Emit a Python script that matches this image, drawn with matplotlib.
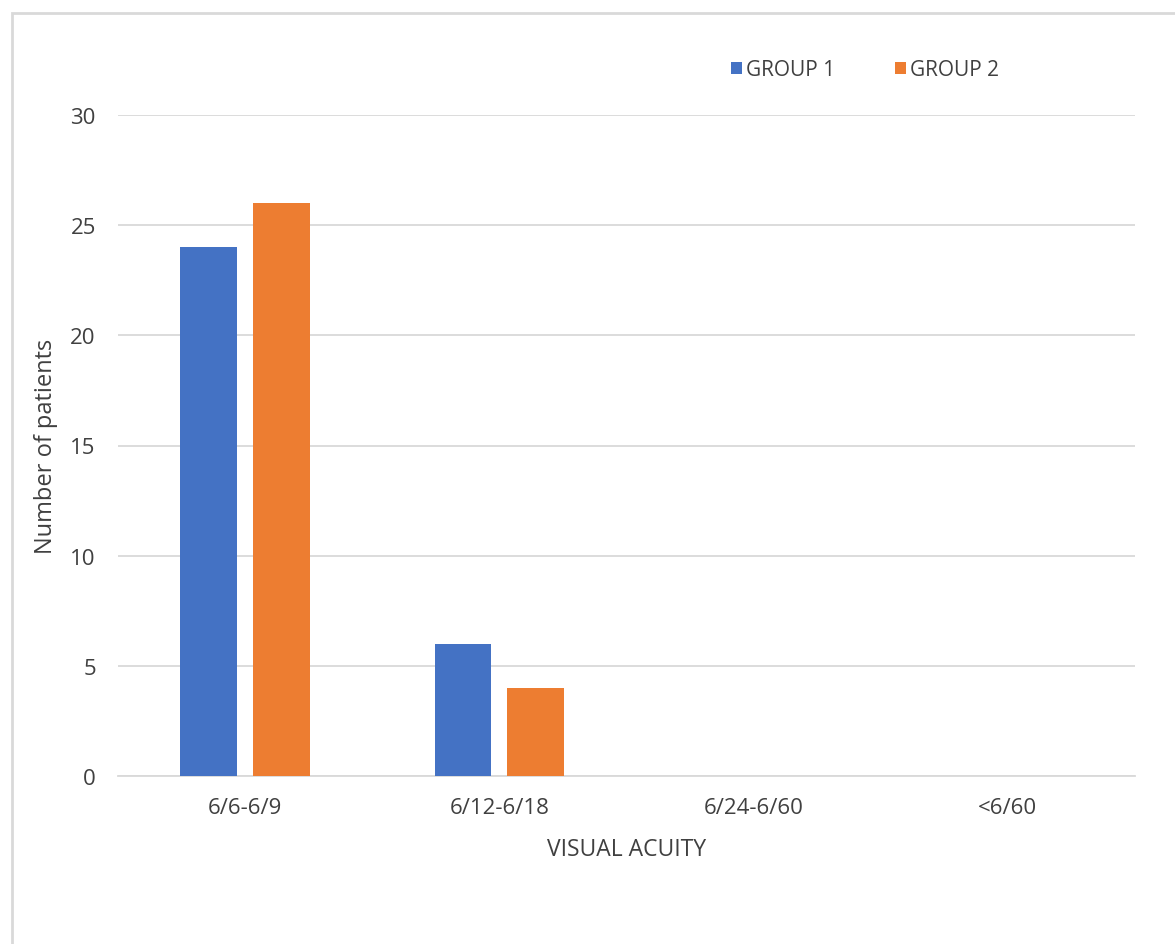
import numpy as np
from matplotlib import pyplot as plt
from matplotlib.patches import Rectangle

categories = ["6/6-6/9", "6/12-6/18", "6/24-6/60", "<6/60"]
group1 = [24, 6, 0, 0]
group2 = [26, 4, 0, 0]
series_names = ["GROUP 1", "GROUP 2"]
colors = ["#4472C4", "#ED7D31"]
yticks = [0, 5, 10, 15, 20, 25, 30]

plt.rcParams['font.family'] = ['Open Sans', 'DejaVu Sans']
text_color = "#404040"

fig = plt.figure(figsize=(11.75, 9.45), dpi=100)
ax = fig.add_axes([118 / 1175, 1 - 777 / 945, (1135 - 118) / 1175, (777 - 116) / 945])

# chart border (right and bottom run off the image)
fig.patches.append(Rectangle((12 / 1175, -0.05), 1.1, 1 - 14 / 945 + 0.05,
                             transform=fig.transFigure, fill=False,
                             edgecolor="#d9d9d9", linewidth=2))

x = np.arange(len(categories))
w = 0.224
ax.bar(x - 0.143, group1, width=w, color=colors[0], label=series_names[0], zorder=3)
ax.bar(x + 0.143, group2, width=w, color=colors[1], label=series_names[1], zorder=3)

ax.set_xlim(-0.5, len(categories) - 0.5)
ax.set_ylim(0, 30)
ax.set_yticks(yticks)
ax.yaxis.grid(True, color="#d9d9d9", linewidth=1.3, zorder=0)
ax.set_axisbelow(True)
for s in ["top", "right", "left"]:
    ax.spines[s].set_visible(False)
ax.spines["bottom"].set_color("#d9d9d9")
ax.spines["bottom"].set_linewidth(1.3)
ax.tick_params(length=0, labelsize=16, colors=text_color, pad=15)
ax.tick_params(axis="y", pad=16)
ax.set_xticks(x)
ax.set_xticklabels(categories)

ax.set_xlabel("VISUAL ACUITY", fontsize=16.5, color=text_color)
ax.set_ylabel("Number of patients", fontsize=17, color=text_color)
ax.xaxis.set_label_coords(0.5, (777 - 838) / 661)
ax.yaxis.set_label_coords((58 - 118) / 1017, 0.5)

fig.legend(loc="center", bbox_to_anchor=(865 / 1175, 1 - 71 / 945), ncol=2,
           frameon=False, fontsize=15, labelcolor=text_color,
           handlelength=0.5, handleheight=0.5, handletextpad=0.2, columnspacing=2.9)

fig.savefig("out.png", dpi=100, facecolor="white")
